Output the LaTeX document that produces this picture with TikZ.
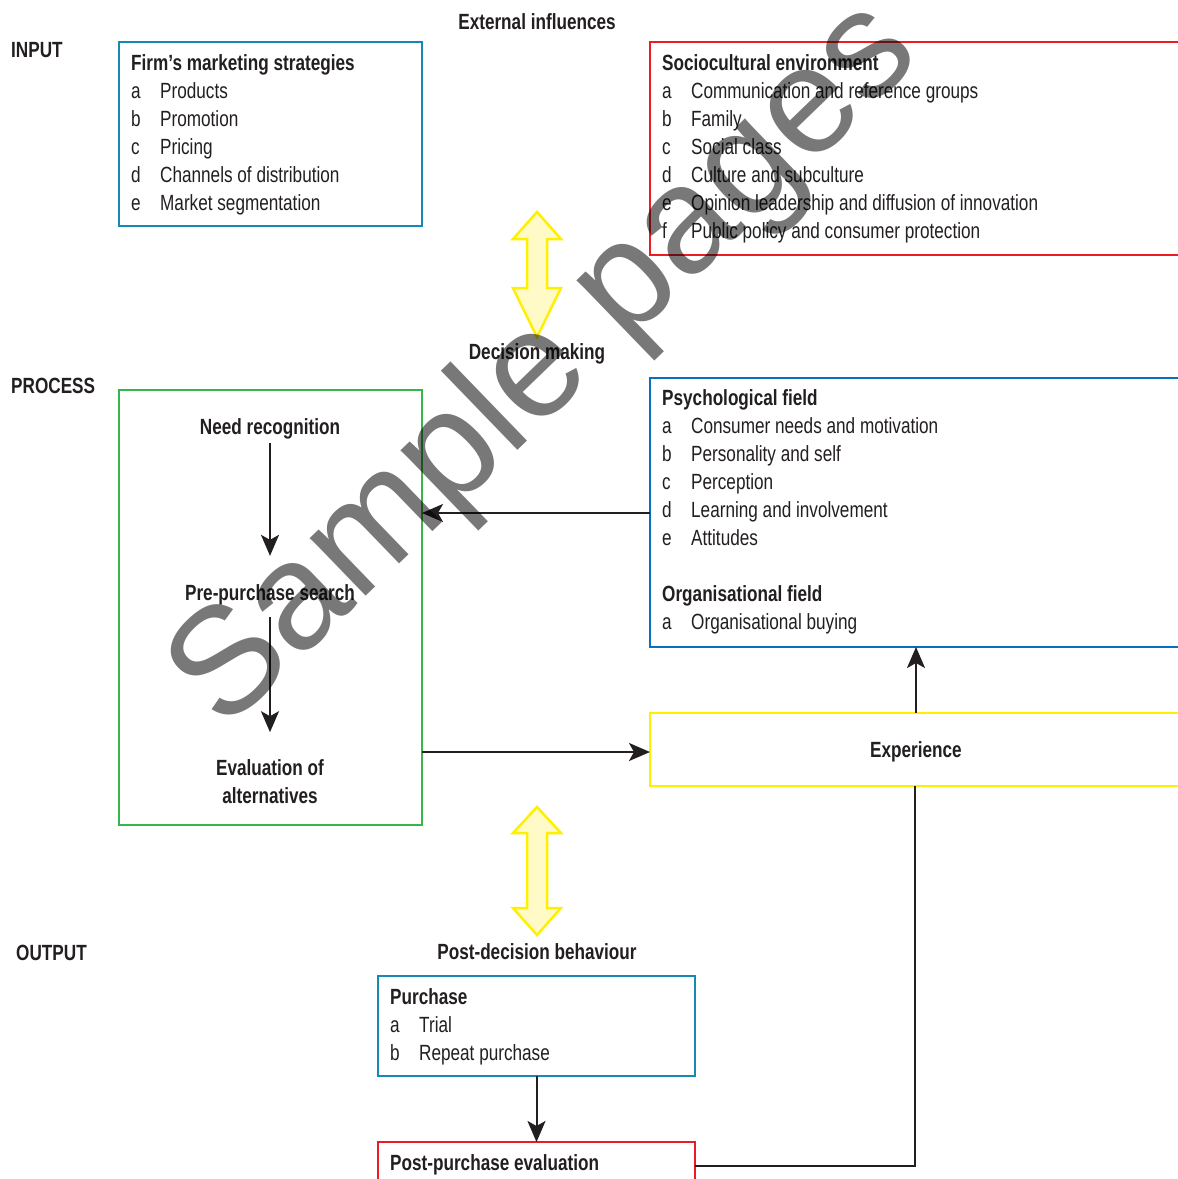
\documentclass[tikz,border=0pt]{standalone}
\usepackage{fontspec}
\setmainfont{Liberation Sans}[FakeStretch=0.78]
\newfontfamily\wmfont{Liberation Sans}
\usetikzlibrary{arrows.meta}
\definecolor{cteal}{RGB}{22,138,180}
\definecolor{cblue}{RGB}{10,112,188}
\definecolor{cred}{RGB}{237,28,36}
\definecolor{cgreen}{RGB}{57,181,74}
\definecolor{cyel}{RGB}{255,240,0}
\definecolor{cyelf}{RGB}{255,250,198}
\definecolor{cline}{RGB}{35,31,32}
\newcommand{\fs}{\fontsize{22}{28}\selectfont}
\newcommand{\hd}[1]{\multicolumn{2}{@{}l@{}}{\bfseries #1}}
\begin{document}
\begin{tikzpicture}[x=1pt,y=-1pt,
  box/.style={draw, line width=2.2pt, anchor=north west, inner sep=0pt, outer sep=0pt},
  lst/.style={anchor=base west, inner sep=0pt, font=\fs, text=cline},
  lbl/.style={anchor=base, inner sep=0pt, font=\fs\bfseries, text=cline},
  lbw/.style={anchor=base west, inner sep=0pt, font=\fs\bfseries, text=cline},
  arr/.style={line width=2pt, draw=cline, -{Stealth[length=21pt,width=18pt,inset=5pt]}},
  plain/.style={line width=2pt, draw=cline},
  yarr/.style={draw=cyel, fill=cyelf, line width=2.5pt, line join=miter}]
\useasboundingbox (0,0) rectangle (1178,1179);
\clip (0,0) rectangle (1178,1179);
\fill[white] (0,0) rectangle (1178,1179);

% section labels
\node[lbw] (input) at (11,57) {INPUT};
\node[lbw] (process) at (11,393) {PROCESS};
\node[lbw] (output) at (16,960) {OUTPUT};
\node[lbl] (ext) at (537,29) {External influences};
\node[lbl] (decm) at (537,359) {Decision making};
\node[lbl] (postdec) at (537,959) {Post-decision behaviour};

% boxes
\node[box, draw=cteal, minimum width=303pt, minimum height=184pt] (firm) at (119,42) {};
\node[box, draw=cred, minimum width=560pt, minimum height=213pt] (socio) at (650,42) {};
\node[box, draw=cgreen, minimum width=303pt, minimum height=435pt] (dm) at (119,390) {};
\node[box, draw=cblue, minimum width=560pt, minimum height=269pt] (psych) at (650,378) {};
\node[box, draw=cyel, minimum width=560pt, minimum height=73pt] (exp) at (650,713) {};
\node[box, draw=cteal, minimum width=317pt, minimum height=100pt] (purch) at (378,976) {};
\node[box, draw=cred, minimum width=317pt, minimum height=100pt] (post) at (378,1142) {};

% box texts
\node[lst] (firmtxt) at (131,70) {\begin{tabular}[t]{@{}p{29pt}@{}l@{}}
\hd{Firm’s marketing strategies}\\
a & Products\\
b & Promotion\\
c & Pricing\\
d & Channels of distribution\\
e & Market segmentation
\end{tabular}};
\node[lst] (sociotxt) at (662,70) {\begin{tabular}[t]{@{}p{29pt}@{}l@{}}
\hd{Sociocultural environment}\\
a & Communication and reference groups\\
b & Family\\
c & Social class\\
d & Culture and subculture\\
e & Opinion leadership and diffusion of innovation\\
f & Public policy and consumer protection
\end{tabular}};
\node[lst] (psychtxt) at (662,405) {\begin{tabular}[t]{@{}p{29pt}@{}l@{}}
\hd{Psychological field}\\
a & Consumer needs and motivation\\
b & Personality and self\\
c & Perception\\
d & Learning and involvement\\
e & Attitudes\\
\\
\hd{Organisational field}\\
a & Organisational buying
\end{tabular}};
\node[lst] (purchtxt) at (390,1004) {\begin{tabular}[t]{@{}p{29pt}@{}l@{}}
\hd{Purchase}\\
a & Trial\\
b & Repeat purchase
\end{tabular}};
\node[lbw] (posttxt) at (390,1170) {Post-purchase evaluation};

\node[lbl] (need) at (270,434) {Need recognition};
\node[lbl] (pre) at (270,600) {Pre-purchase search};
\node[lbl] (eval) at (270,775) {\begin{tabular}[t]{@{}c@{}}Evaluation of\\alternatives\end{tabular}};
\node[lbl] (exptxt) at (916,757) {Experience};

% yellow double arrows
\draw[yarr] (537,212) -- (561,239) -- (547,239) -- (547,288) -- (561,288) -- (537,337)
  -- (513,288) -- (527,288) -- (527,239) -- (513,239) -- cycle;
\draw[yarr] (537,807) -- (561,833) -- (547,833) -- (547,908) -- (561,908) -- (537,935)
  -- (513,908) -- (527,908) -- (527,833) -- (513,833) -- cycle;

% connectors
\draw[arr, shorten <=4.5pt, shorten >=28pt] (need.south) -- (pre.north);
\draw[arr, shorten <=12.5pt, shorten >=23pt] (pre.south) -- (eval.north);
\draw[arr] (psych.west |- 0,513) -- (dm.east |- 0,513);
\draw[arr] (dm.east |- 0,752) -- (exp.west |- 0,752);
\draw[arr] (exptxt |- exp.north) -- (exptxt |- psych.south);
\draw[arr] (purch.south) -- (post.north);
\coordinate (corner) at (915,1166);
\draw[plain] (post.east |- corner) -- (corner) -- (corner |- exp.south);

% watermark
\node[font=\wmfont\fontsize{152}{152}\selectfont, text=black, text opacity=0.53, rotate=44, inner sep=0pt] (wm) at (547,367) {Sample pages};
\end{tikzpicture}
\end{document}
